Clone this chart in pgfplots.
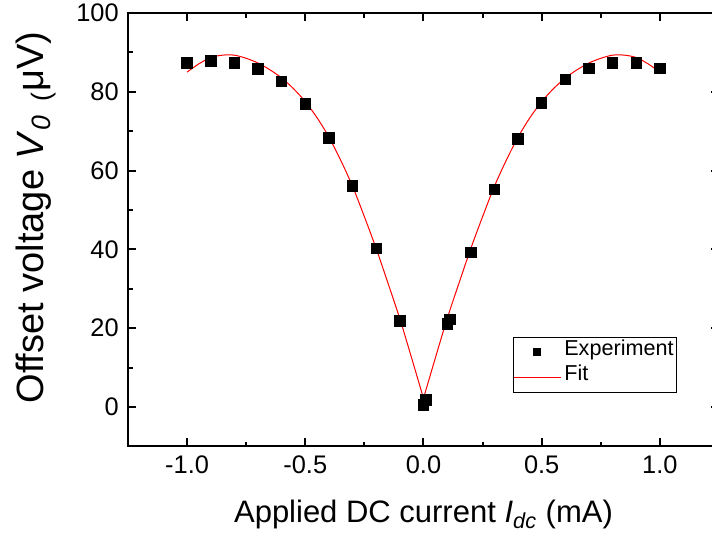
\documentclass[border=0pt]{standalone}
\usepackage{fontspec}
\setmainfont{Liberation Sans}
\usepackage{pgfplots}
\pgfplotsset{compat=1.18}
\begin{document}
\begin{tikzpicture}
\begin{axis}[
  scale only axis,
  width=295.5pt, height=216.7pt,
  xmin=-1.25, xmax=1.25, ymin=-10, ymax=100,
  xtick={-1,-0.5,0,0.5,1},
  xticklabels={-1.0,-0.5,0.0,0.5,1.0},
  ytick={0,20,40,60,80,100},
  yticklabels={0,20,40,60,80,100},
  minor x tick num=1, minor y tick num=1,
  tick align=inside,
  major tick length=4pt, minor tick length=2.4pt,
  every tick/.style={black, line width=1pt},
  axis line style={line width=1pt},
  ticklabel style={font=\fontsize{12.7}{15}\selectfont},
  xticklabel style={yshift=-1.3pt},
  yticklabel style={xshift=-1.1pt},
  xlabel={Applied DC current \textit{I}\textsubscript{\textit{dc}} (mA)},
  ylabel={Offset voltage \textit{V}\textsubscript{\textit{0}\ \ (}μV)},
  xlabel style={font=\fontsize{15.5}{18}\selectfont, at={(axis description cs:0.5,-0.175)}, anchor=base},
  ylabel style={font=\fontsize{19}{22}\selectfont, at={(axis description cs:-0.1438,0.528)}, anchor=base},
  legend image code/.code={\draw[mark repeat=2,mark phase=2,#1] plot coordinates {(0pt,0pt) (11.75pt,0pt) (23.5pt,0pt)};},
  legend image post style={mark options={scale=0.68}},
  legend cell align=left,
  legend style={font=\fontsize{10.8}{12}\selectfont, at={(axis cs:0.378,17.8)}, anchor=north west,
    draw=black, line width=0.5pt, inner xsep=0pt, inner ysep=1.25pt, row sep=0pt,
    nodes={inner xsep=1.5pt, inner ysep=0pt, text height=7.8pt, text depth=4.7pt}},
]
\addplot[only marks, mark=square*, mark size=2.6pt, black] coordinates {
(-1.0,87.3) (-0.9,87.8) (-0.8,87.3) (-0.7,85.8) (-0.6,82.6) (-0.5,76.9)
(-0.4,68.3) (-0.3,56.1) (-0.2,40.2) (-0.1,21.8) (0.0,0.5) (0.011,1.8)
(0.1,21.1) (0.112,22.2) (0.2,39.3) (0.3,55.3) (0.4,68.0) (0.5,77.2)
(0.6,83.2) (0.7,86.0) (0.8,87.3) (0.9,87.3) (1.0,86.0)
};
\addlegendentry{Experiment}
\addplot[red, line width=0.5pt, smooth, mark=none] coordinates {
(-1.0,85.0) (-0.95,87.1) (-0.9,88.7) (-0.85,89.3) (-0.8,89.3) (-0.75,88.5)
(-0.7,87.3) (-0.65,85.6) (-0.6,83.5) (-0.55,80.8) (-0.5,77.5) (-0.45,73.4)
(-0.4,68.5) (-0.35,62.6) (-0.3,56.0) (-0.25,48.3) (-0.2,40.2) (-0.15,31.4)
(-0.1,22.4) (-0.05,12.4) (0.0,2.2)
};
\addlegendentry{Fit}
\addplot[red, line width=0.5pt, smooth, mark=none, forget plot] coordinates {
(0.0,2.2) (0.05,12.4) (0.1,22.4) (0.15,31.4) (0.2,40.2) (0.25,48.3)
(0.3,56.0) (0.35,62.6) (0.4,68.5) (0.45,73.4) (0.5,77.5) (0.55,80.8)
(0.6,83.5) (0.65,85.6) (0.7,87.3) (0.75,88.5) (0.8,89.3) (0.85,89.3)
(0.9,88.7) (0.95,87.1) (1.0,85.0)
};
\coordinate (bbsw) at (axis description cs:-0.2166,-0.216);
\coordinate (bbne) at (axis description cs:0.9882,1.03);
\end{axis}
\pgfresetboundingbox
\path[use as bounding box] (bbsw) rectangle (bbne);
\end{tikzpicture}
\end{document}
